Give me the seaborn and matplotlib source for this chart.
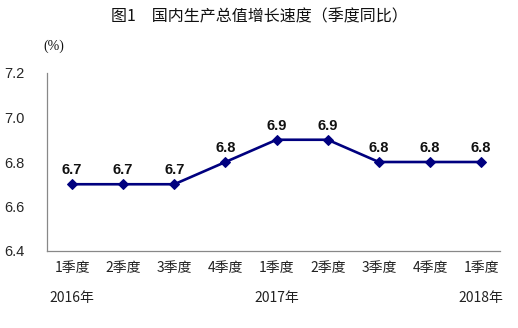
import matplotlib
matplotlib.use("Agg")
import matplotlib.pyplot as plt
import seaborn as sns
import pandas as pd

quarters = ["1季度", "2季度", "3季度", "4季度", "1季度", "2季度", "3季度", "4季度", "1季度"]
growth = [6.7, 6.7, 6.7, 6.8, 6.9, 6.9, 6.8, 6.8, 6.8]
years = ["2016年", "2017年", "2018年"]
year_positions = [0, 4, 8]
y_ticks = [6.4, 6.6, 6.8, 7.0, 7.2]

sns.set_theme(style="white")
plt.rcParams["font.family"] = ["Noto Sans CJK SC", "DejaVu Sans"]

df = pd.DataFrame({"pos": range(len(growth)), "value": growth})

fig = plt.figure(figsize=(5.18, 3.28), dpi=100)
ax = fig.add_axes([47 / 518, 1 - 251 / 328, (500 - 47) / 518, (251 - 73) / 328])

navy = "#00007f"
sns.lineplot(data=df, x="pos", y="value", ax=ax, color=navy, linewidth=1.9,
             marker="D", markersize=5, markeredgecolor=navy, markerfacecolor=navy)

for x, v in zip(df["pos"], growth):
    ax.annotate(f"{v:.1f}", (x, v), xytext=(0, 5), textcoords="offset points",
                ha="center", va="bottom", fontsize=10.5, fontweight="bold",
                family=["Liberation Sans", "DejaVu Sans"], color="#111111")

ax.set_xlim(-0.49, 8.37)
ax.set_ylim(6.4, 7.2)
ax.set_yticks(y_ticks)
ax.set_yticklabels([f"{t:.1f}" for t in y_ticks], family=["Liberation Sans"], fontsize=10.5)
ax.tick_params(axis="y", direction="in", length=3, color="#888888", pad=16, width=0.8)

# Category boundary ticks on the bottom axis
ax.set_xticks([i + 0.5 for i in range(len(growth) - 1)])
ax.set_xticklabels([])
ax.tick_params(axis="x", direction="in", length=4, color="#888888", width=0.8)

for i, q in enumerate(quarters):
    ax.text(i, -0.095, q, transform=ax.get_xaxis_transform(), ha="center", va="center",
            fontsize=10, color="#222222")
for p, yname in zip(year_positions, years):
    ax.text(p, -0.265, yname, transform=ax.get_xaxis_transform(), ha="center", va="center",
            fontsize=10, color="#222222")

for side in ["top", "right"]:
    ax.spines[side].set_visible(False)
for side in ["left", "bottom"]:
    ax.spines[side].set_color("#888888")
    ax.spines[side].set_linewidth(0.9)

ax.set_xlabel("")
ax.set_ylabel("")

fig.text(259 / 518, 1 - 17 / 328, "图1　国内生产总值增长速度（季度同比）",
         ha="center", va="center", fontsize=11.5, color="#111111")
fig.text(54 / 518, 1 - 46 / 328, "(%)", ha="center", va="center", fontsize=10,
         family=["Liberation Serif"], color="#111111")

fig.savefig("out.png", dpi=100)
